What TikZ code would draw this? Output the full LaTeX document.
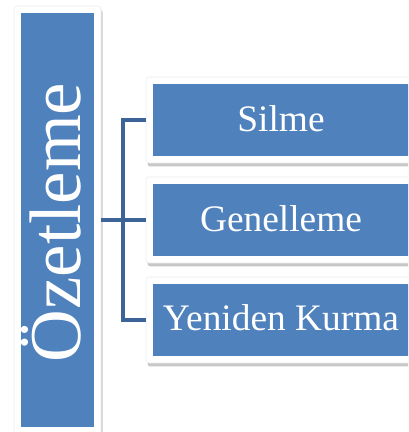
\documentclass[tikz,border=0pt]{standalone}
\usepackage{fontspec}
\setmainfont{Liberation Serif}
\usetikzlibrary{shadows}
\definecolor{boxblue}{RGB}{79,129,189}
\definecolor{linkblue}{RGB}{60,100,150}
\tikzset{
  frame/.style={fill=white, draw=black!7, line width=0.6pt, rounded corners=3pt,
    drop shadow={shadow xshift=1.5pt, shadow yshift=-3.5pt, opacity=0.22, fill=black},
    inner sep=0pt, outer sep=0pt},
  bluebox/.style={fill=boxblue, draw=none, inner sep=0pt, outer sep=0pt,
    text=white, font=\fontsize{37.4}{40}\selectfont, text height=23.5pt, text depth=0pt},
  conn/.style={draw=linkblue, line width=3.6pt}
}
\begin{document}
\begin{tikzpicture}[x=1pt,y=1pt]
\useasboundingbox (0,0) rectangle (408,432);
\begin{scope}
\clip (0,0) rectangle (408,432);
% left box
\node[frame, minimum width=87pt, minimum height=434pt] (Lf) at (57.5,209) {};
\node[bluebox, minimum width=73pt, minimum height=414pt] (Lb) at (57.5,212) {};
\node[text=white, font=\fontsize{73}{76}\selectfont, rotate=90, anchor=base, inner sep=0pt] (Lt) at (80,209.5) {Özetleme};
% right boxes
\node[frame, minimum width=270pt, minimum height=86pt] (Sf) at (281,312) {};
\node[bluebox, minimum width=256pt, minimum height=72pt] (S) at (281,312) {Silme};
\node[frame, minimum width=270pt, minimum height=86pt] (Gf) at (281,212) {};
\node[bluebox, minimum width=256pt, minimum height=72pt] (G) at (281,212) {Genelleme};
\node[frame, minimum width=270pt, minimum height=86pt] (Yf) at (281,112) {};
\node[bluebox, minimum width=256pt, minimum height=72pt, text height=22pt] (Y) at (281,112) {Yeniden Kurma};
\end{scope}
% connectors
\coordinate (J) at (123,212);
\draw[conn] (Lf.east |- G.west) -- (Gf.west |- G.west);
\draw[conn] (Sf.west |- S.west) -| (J |- Y.west) -- (Yf.west |- Y.west);
\end{tikzpicture}
\end{document}
